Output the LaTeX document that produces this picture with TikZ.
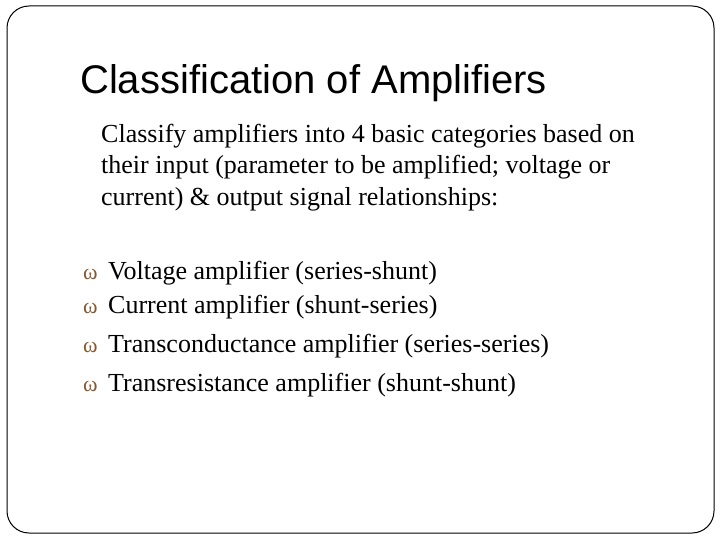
\documentclass[tikz,border=0pt]{standalone}
\usepackage{fontspec}
\setmainfont{Liberation Serif}
\newfontfamily\titlefont{Liberation Sans}
\begin{document}
\begin{tikzpicture}[x=1pt,y=-1pt,
  body/.style={anchor=base west,inner sep=0pt,font=\fontsize{26}{30}\selectfont},
  bul/.style={anchor=base west,inner sep=0pt,text=brown!70!black,font=\fontsize{22}{22}\selectfont}]
\useasboundingbox (0,0) rectangle (720,540);
\draw[rounded corners=22pt,line width=1pt] (7,6) rectangle (714,533);
\node[anchor=base west,inner sep=0pt,font=\titlefont\fontsize{40}{44}\selectfont] (title) at (80,94) {Classification of Amplifiers};
\node[body] (p1) at (101,143) {Classify amplifiers into 4 basic categories based on};
\node[body] (p2) at (101,174) {their input (parameter to be amplified; voltage or};
\node[body] (p3) at (101,206) {current) \& output signal relationships:};
\foreach \y/\t [count=\i] in {279/Voltage amplifier (series-shunt),313/Current amplifier (shunt-series),352/Transconductance amplifier (series-series),391/Transresistance amplifier (shunt-shunt)}{
  \node[bul] (b\i) at (83,\y) {ω};
  \node[body] (t\i) at (108,\y) {\t};
}
\end{tikzpicture}
\end{document}
